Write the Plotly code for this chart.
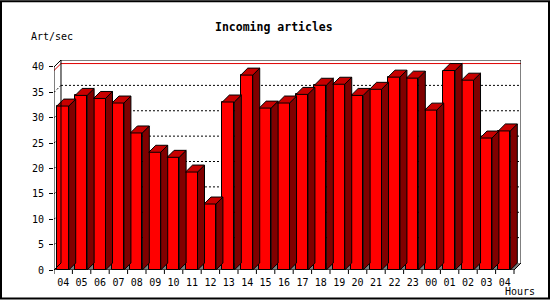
import plotly.graph_objects as go

# ---- data ----
hours = ["04", "05", "06", "07", "08", "09", "10", "11", "12", "13", "14", "15",
         "16", "17", "18", "19", "20", "21", "22", "23", "00", "01", "02", "03", "04"]
values = [32.3, 34.4, 33.8, 32.9, 27.0, 23.2, 22.2, 19.3, 13.0, 33.1, 38.4, 31.9,
          32.9, 34.6, 36.4, 36.6, 34.4, 35.6, 38.0, 37.8, 31.5, 39.3, 37.4, 26.0, 27.4]
y_ticks = [0, 5, 10, 15, 20, 25, 30, 35, 40]
title_text = "Incoming articles"
y_label = "Art/sec"
x_label = "Hours"

# ---- geometry ----
W, H = 550, 300
L, R = 54, 29
T, B = 60, 29.5
pw, ph = W - L - R, H - T - B
n = len(values)
ymax = 40
dxu = 0.38          # depth offset in x units
dyu = 1.375         # depth offset in y units
xmin, xmax = -0.5, n - 0.5 + dxu
bw = 0.65
xl = [i - 0.35 for i in range(n)]
xr = [a + bw for a in xl]

def px2paper_x(px):
    return (px - L) / pw

def px2paper_y(py):
    return (H - B - py) / ph

fig = go.Figure()

# front faces
fig.add_trace(go.Bar(x=[a + bw / 2 for a in xl], y=values, width=bw,
                     marker=dict(color="#FF0000", line=dict(color="black", width=1)),
                     hoverinfo="skip", showlegend=False))

# side faces
sx, sy = [], []
for a, b, v in zip(xl, xr, values):
    sx += [b, b + dxu, b + dxu, b, b, None]
    sy += [0, dyu, v + dyu, v, 0, None]
fig.add_trace(go.Scatter(x=sx, y=sy, mode="lines", fill="toself", fillcolor="#800000",
                         line=dict(color="black", width=1), hoverinfo="skip", showlegend=False))

# top faces
tx, ty = [], []
for a, b, v in zip(xl, xr, values):
    tx += [a, a + dxu, b + dxu, b, a, None]
    ty += [v, v + dyu, v + dyu, v, v, None]
fig.add_trace(go.Scatter(x=tx, y=ty, mode="lines", fill="toself", fillcolor="#C80000",
                         line=dict(color="black", width=1), hoverinfo="skip", showlegend=False))

shapes = []
x0b, x1b = -0.5 + dxu, n - 0.5 + dxu
# floor
shapes.append(dict(type="path", layer="below", xref="x", yref="y",
                   path=f"M {-0.5},0 L {n-0.5},0 L {x1b},{dyu} L {x0b},{dyu} Z",
                   fillcolor="#808080", line=dict(width=0)))
# grid lines (back wall + left wall)
for v in y_ticks[1:-1]:
    shapes.append(dict(type="line", layer="below", xref="x", yref="y",
                       x0=x0b, x1=x1b, y0=v + dyu, y1=v + dyu,
                       line=dict(color="black", width=1, dash="2px,2px")))
    shapes.append(dict(type="line", layer="below", xref="x", yref="y",
                       x0=-0.5, x1=x0b, y0=v, y1=v + dyu,
                       line=dict(color="black", width=1, dash="2px,2px")))
# max line
vm = max(values)
shapes.append(dict(type="line", layer="below", xref="x", yref="y",
                   x0=-0.5, x1=x0b, y0=vm, y1=vm + dyu, line=dict(color="#E00000", width=1)))
shapes.append(dict(type="line", layer="below", xref="x", yref="y",
                   x0=x0b, x1=x1b, y0=vm + dyu, y1=vm + dyu, line=dict(color="#E00000", width=1)))
# frame
frame = [(-0.5, 0, -0.5, ymax), (-0.5, ymax, x0b, ymax + dyu), (x0b, ymax + dyu, x1b, ymax + dyu),
         (x1b, dyu, x1b, ymax + dyu), (x0b, dyu, x0b, ymax + dyu),
         (-0.5, 0, n - 0.5, 0), (n - 0.5, 0, x1b, dyu), (-0.5, 0, x0b, dyu)]
for a, b, c, d in frame:
    shapes.append(dict(type="line", layer="above", xref="x", yref="y",
                       x0=a, y0=b, x1=c, y1=d, line=dict(color="black", width=1)))
# x tick marks at category boundaries
for k in range(n + 1):
    shapes.append(dict(type="line", xref="x", yref="paper", x0=k - 0.5, x1=k - 0.5,
                       y0=0, y1=-4 / ph, line=dict(color="black", width=1)))
# outer border
shapes.append(dict(type="rect", xref="paper", yref="paper",
                   x0=px2paper_x(1), x1=px2paper_x(549), y0=px2paper_y(299), y1=px2paper_y(1),
                   line=dict(color="black", width=2), fillcolor="rgba(0,0,0,0)"))

font = dict(family="DejaVu Sans Mono", size=10, color="black")
annotations = [
    dict(text=f"<b>{title_text}</b>", xref="paper", yref="paper", x=px2paper_x(274), y=px2paper_y(26.5),
         xanchor="center", yanchor="middle", showarrow=False,
         font=dict(family="DejaVu Sans Mono", size=11.5, color="black")),
    dict(text=y_label, xref="paper", yref="paper", x=px2paper_x(29), y=px2paper_y(36.5),
         xanchor="left", yanchor="middle", showarrow=False, font=font),
    dict(text=x_label, xref="paper", yref="paper", x=px2paper_x(503), y=px2paper_y(292.5),
         xanchor="left", yanchor="middle", showarrow=False, font=font),
]

fig.update_layout(
    width=W, height=H, margin=dict(l=L, r=R, t=T, b=B, pad=0),
    paper_bgcolor="white", plot_bgcolor="white",
    shapes=shapes, annotations=annotations, showlegend=False, bargap=0,
    xaxis=dict(range=[xmin, xmax], tickvals=list(range(n)), ticktext=hours, ticks="",
               showgrid=False, zeroline=False, showline=False, tickfont=font, ticklabelstandoff=5),
    yaxis=dict(range=[0, ymax + dyu], tickvals=y_ticks, ticks="outside", ticklen=4, tickcolor="black",
               showgrid=False, zeroline=False, showline=False, tickfont=font, ticklabelstandoff=3),
)

fig.write_html("out.html")
